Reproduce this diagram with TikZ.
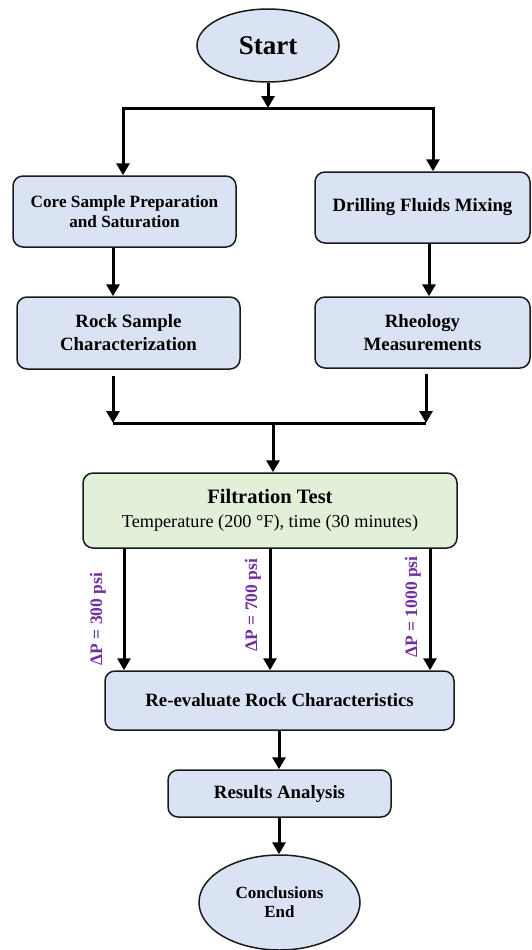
\documentclass[tikz,border=0pt]{standalone}
\usepackage{fontspec}
\setmainfont{Liberation Serif}
\usetikzlibrary{arrows.meta,shapes.geometric}
\definecolor{boxblue}{HTML}{DAE3F3}
\definecolor{boxgreen}{HTML}{E2EFD9}
\definecolor{edge}{HTML}{1A1A1A}
\definecolor{labpurple}{HTML}{7030A0}
\tikzset{
  stepbox/.style={draw=edge, line width=1.5pt, rounded corners=10pt, fill=boxblue,
    align=center, inner sep=0pt, font=\bfseries\fontsize{18.8}{23}\selectfont},
  oval/.style={draw=edge, line width=1.5pt, ellipse, fill=boxblue, align=center, inner sep=0pt},
  flow/.style={line width=3pt, -{Triangle[width=13pt,length=12pt]}},
  bar/.style={line width=3pt},
  plabel/.style={text=labpurple, rotate=90, inner sep=0pt, font=\bfseries\fontsize{17.5}{20}\selectfont}
}
\begin{document}
\begin{tikzpicture}[x=1pt,y=-1pt]
\useasboundingbox (0,0) rectangle (532,950);

% nodes
\node[oval, minimum width=142pt, minimum height=73pt, font=\bfseries\fontsize{27}{30}\selectfont]
  (start) at (268,45.5) {Start};
\node[stepbox, minimum width=223pt, minimum height=71pt, font=\bfseries\fontsize{17.2}{19.5}\selectfont]
  (core) at (124.5,211.5) {Core Sample Preparation\\and Saturation};
\node[stepbox, minimum width=215pt, minimum height=71pt]
  (drill) at (422.5,207.5) {Drilling Fluids Mixing};
\node[stepbox, minimum width=223pt, minimum height=72pt]
  (rock) at (128.5,333) {Rock Sample\\Characterization};
\node[stepbox, minimum width=215pt, minimum height=71pt]
  (rheo) at (422.5,332.5) {Rheology\\Measurements};
\node[stepbox, fill=boxgreen, minimum width=374pt, minimum height=75pt, font=\fontsize{18.2}{24}\selectfont]
  (filt) at (270,510.5) {{\bfseries\fontsize{20.5}{24}\selectfont Filtration Test}\\Temperature (200 °F), time (30 minutes)};
\node[stepbox, minimum width=349pt, minimum height=59pt]
  (reeval) at (279.5,700.5) {Re-evaluate Rock Characteristics};
\node[stepbox, minimum width=223pt, minimum height=47pt]
  (results) at (279.5,793.5) {Results Analysis};
\node[oval, minimum width=161pt, minimum height=95pt, font=\bfseries\fontsize{17}{19}\selectfont]
  (concl) at (279.5,902.5) {Conclusions\\End};

% split after start
\coordinate (sL) at (123,108);
\coordinate (sR) at (433,108);
\draw[flow] (start.south) -- (start.south |- sL);
\draw[bar] (sL) -- (sR);
\draw[flow] ([xshift=0pt,yshift=1.5pt]sL) -- (sL |- core.north);
\draw[flow] ([yshift=1.5pt]sR) -- (sR |- drill.north);

% left and right columns
\draw[flow] ([xshift=-11.5pt]core.south) -- ([xshift=-15.5pt]rock.north);
\draw[flow] ([xshift=6.5pt]drill.south) -- ([xshift=6.5pt]rheo.north);

% merge into filtration test
\coordinate (jL) at (113,423);
\coordinate (jR) at (426,423);
\coordinate (jM) at (273,423);
\draw[flow] ([xshift=-15.5pt,yshift=-6pt]rock.south) -- (jL);
\draw[flow] ([xshift=3.5pt,yshift=-5pt]rheo.south) -- (jR);
\draw[bar] (jL) -- (jR);
\draw[flow] ([yshift=1.5pt]jM) -- (jM |- filt.north);

% pressure branches
\coordinate (f1) at (124,548);
\coordinate (f2) at (270,548);
\coordinate (f3) at (430,548);
\draw[flow] (f1) -- (f1 |- reeval.north);
\draw[flow] (f2) -- (f2 |- reeval.north);
\draw[flow] (f3) -- (f3 |- reeval.north);
\node[plabel] (p300) at (98,619) {ΔP = 300 psi};
\node[plabel] (p700) at (253,605) {ΔP = 700 psi};
\node[plabel] (p1000) at (413,607) {ΔP = 1000 psi};

% final steps
\draw[flow] ([xshift=-0.5pt]reeval.south) -- ([xshift=-0.5pt]results.north);
\draw[flow] ([xshift=-0.5pt]results.south) -- ([xshift=-0.5pt]concl.north);
\end{tikzpicture}
\end{document}
